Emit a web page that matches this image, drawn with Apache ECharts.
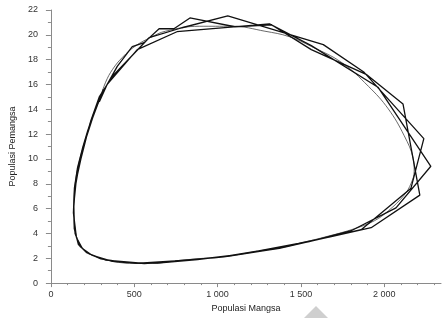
<!DOCTYPE html>
<html>
<head>
<meta charset="utf-8">
<script src="https://cdn.jsdelivr.net/npm/echarts@6/dist/echarts.min.js"></script>
<style>
  html, body { margin: 0; padding: 0; background: #fff; }
  #chart { width: 443px; height: 318px; }
</style>
</head>
<body>
<div id="chart"></div>
<script>
// smooth limit cycle (prey, predator)
const orbit = [
  [137, 6.06], [143, 4.46], [167, 3.27], [203, 2.63], [251, 2.23], [370, 1.75],
  [507, 1.59], [609, 1.59], [746, 1.79], [907, 1.99], [1009, 2.07], [1146, 2.35],
  [1248, 2.59], [1385, 2.87], [1487, 3.19], [1666, 3.79], [1821, 4.38], [1940, 5.02],
  [2024, 5.82], [2119, 7.09], [2161, 8.05], [2179, 9.01], [2173, 10.04], [2119, 11.88],
  [2024, 14.03], [1904, 15.86], [1743, 17.78], [1564, 19.05], [1430, 19.85], [1284, 20.29],
  [1087, 20.69], [890, 20.69], [687, 20.29], [600, 19.8], [507, 19.1], [430, 18.2],
  [370, 17.22], [328, 16.18], [293, 14.83], [251, 13.47], [221, 12.2], [191, 10.84],
  [161, 9.25], [143, 7.65], [137, 6.06]
]

// discrete (step) solution, several laps
const steps = [
  [315, 15.62], [261, 13.87], [219, 12.2], [189, 10.84], [159, 9.25], [141, 7.65],
  [135, 5.66], [153, 3.67], [189, 2.79], [249, 2.23], [369, 1.75], [506, 1.59],
  [744, 1.79], [1007, 2.07], [1246, 2.59], [1485, 3.19], [1682, 3.75],
  [1921, 4.46], [2213, 7.09], [2112, 14.43], [1891, 16.82], [1562, 18.81], [1323, 20.81],
  [1103, 20.65], [834, 21.36], [738, 20.49], [649, 20.49], [559, 19.37], [488, 19.05],
  [398, 17.46], [300, 15.1],
  [250, 13.3], [214, 11.8], [180, 10.0], [152, 8.3], [137, 6.3], [140, 4.4],
  [165, 3.1], [215, 2.45], [300, 1.95], [450, 1.65], [640, 1.62], [880, 1.9],
  [1120, 2.3], [1370, 2.8], [1600, 3.5],
  [1861, 4.3], [2160, 7.65], [2237, 11.64], [1879, 16.98], [1634, 19.21], [1061, 21.52],
  [786, 20.57], [589, 19.77], [369, 16.66],
  [290, 15.0], [240, 13.1], [205, 11.5], [172, 9.7], [147, 7.8], [136, 6.0],
  [145, 4.0], [175, 2.95], [230, 2.35], [330, 1.85], [560, 1.58], [800, 1.82],
  [1060, 2.15], [1300, 2.65], [1550, 3.35],
  [1801, 4.22], [2070, 6.06], [2279, 9.41], [1962, 15.78], [1562, 19.13], [1311, 20.88],
  [756, 20.25], [518, 18.81], [338, 16.02], [290, 14.6]
]

const xMajor = [0, 500, 1000, 1500, 2000]
const xMinor = [0, 100, 200, 300, 400, 500, 600, 700, 800, 900, 1000, 1100, 1200,
  1300, 1400, 1500, 1600, 1700, 1800, 1900, 2000, 2100, 2200, 2300]

const font = 'Liberation Sans, Arial, sans-serif'
const axisColor = '#8a8a8a'

const chart = echarts.init(document.getElementById('chart'))
const option = {
  animation: false,
  grid: { left: 48, right: 2, top: 10, bottom: 32 },
  xAxis: [{
    type: 'value',
    min: 0,
    max: 2340,
    name: 'Populasi Mangsa',
    nameLocation: 'middle',
    nameGap: 17,
    nameTextStyle: { fontSize: 9, color: '#222', fontFamily: font },
    axisLine: { onZero: false, lineStyle: { color: axisColor, width: 1 } },
    axisTick: { customValues: xMinor, length: 2, lineStyle: { color: axisColor } },
    axisLabel: {
      customValues: xMajor,
      fontSize: 9,
      color: '#333',
      fontFamily: font,
      margin: 7,
      formatter: function (v) {
        return v >= 1000 ? Math.floor(v / 1000) + ' ' + String(v % 1000).padStart(3, '0') : String(v)
      }
    },
    splitLine: { show: false }
  }, {
    type: 'value',
    min: 0,
    max: 2340,
    position: 'bottom',
    axisLine: { show: false },
    axisTick: { customValues: xMajor, length: 4, lineStyle: { color: axisColor } },
    axisLabel: { show: false },
    splitLine: { show: false }
  }],
  yAxis: {
    type: 'value',
    min: 0,
    max: 22,
    interval: 2,
    name: 'Populasi Pemangsa',
    nameLocation: 'middle',
    nameGap: 23,
    nameTextStyle: { fontSize: 9, color: '#222', fontFamily: font },
    axisLine: { show: true, onZero: false, lineStyle: { color: axisColor, width: 1 } },
    axisTick: { show: true, length: 5, lineStyle: { color: axisColor } },
    minorTick: { show: true, splitNumber: 2, length: 3, lineStyle: { color: axisColor } },
    axisLabel: { fontSize: 9, color: '#333', fontFamily: font, margin: 13 },
    splitLine: { show: false }
  },
  series: [{
    type: 'line',
    data: orbit,
    smooth: 0.4,
    showSymbol: false,
    lineStyle: { color: '#444', width: 0.8 }
  }, {
    type: 'line',
    data: steps,
    showSymbol: false,
    lineStyle: { color: '#111', width: 1.3 }
  }],
  graphic: [{
    type: 'polygon',
    shape: { points: [[316, 306], [304, 318], [328, 318]] },
    style: { fill: '#cfcfcf' },
    silent: true
  }]
}
chart.setOption(option)
</script>
</body>
</html>
